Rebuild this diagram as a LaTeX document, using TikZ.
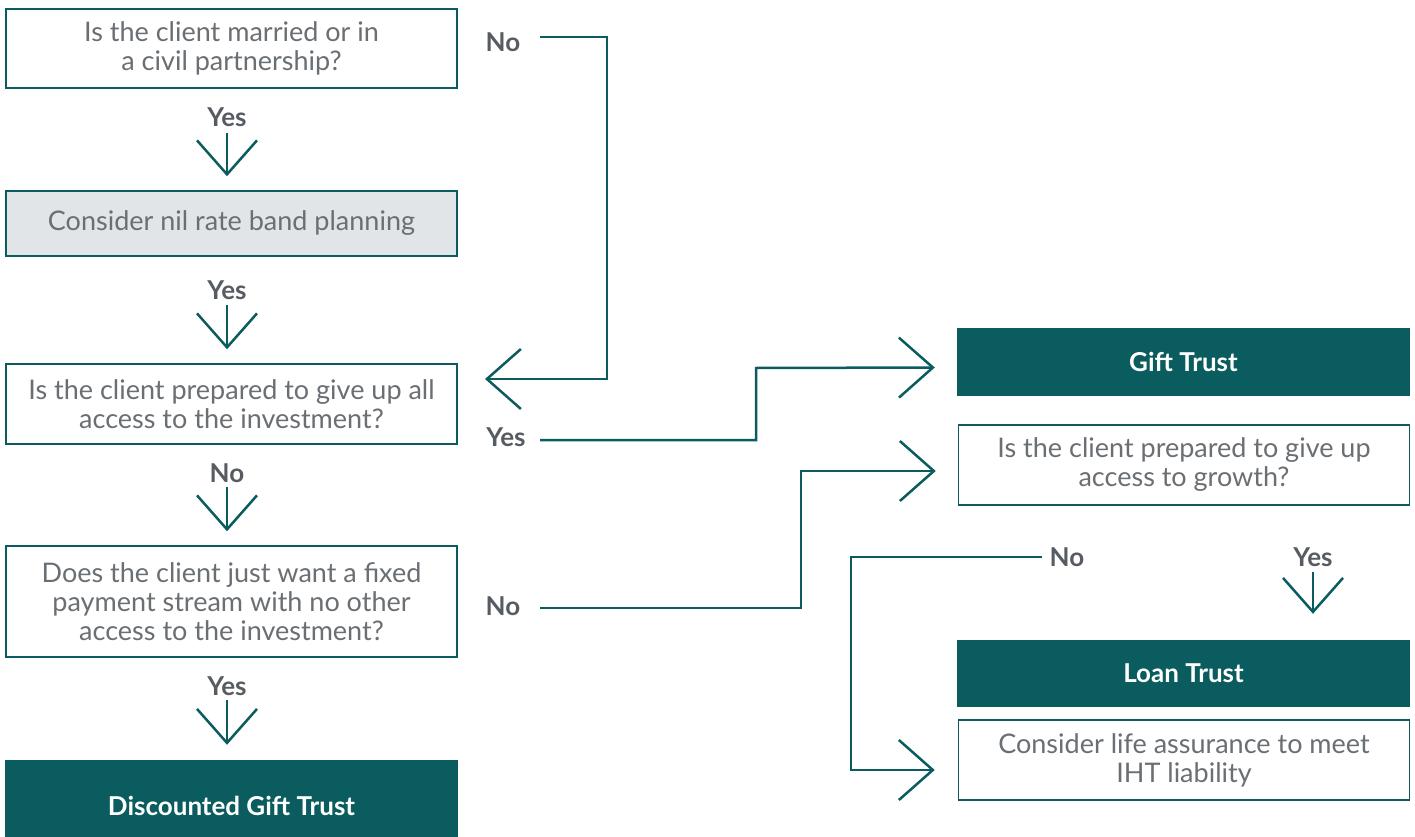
\documentclass[tikz,border=0pt]{standalone}
\usepackage{fontspec}
\setmainfont{Lato}
\usetikzlibrary{arrows.meta}
\definecolor{teal}{HTML}{0A5C5E}
\definecolor{boxtxt}{HTML}{6A6F74}
\definecolor{lbltxt}{HTML}{575C62}
\definecolor{grayfill}{HTML}{E1E5E7}
\tikzset{
  qbox/.style={draw=teal, line width=1.5pt, fill=white, text=boxtxt, align=center,
    font=\fontsize{27}{29}\selectfont, minimum width=451pt, inner sep=0pt},
  tbox/.style={fill=teal, text=white, align=center,
    font=\fontsize{26}{29}\selectfont\bfseries, minimum width=453pt, inner sep=0pt},
  lbl/.style={text=lbltxt, font=\fontsize{26}{28}\selectfont\bfseries, inner sep=2pt},
  conn/.style={draw=teal, line width=2.5pt, -{Straight Barb[length=34pt,width=60pt]}},
}
\begin{document}
\begin{tikzpicture}[x=1pt,y=-1pt]
\useasboundingbox (0,0) rectangle (1415,837);
% left column
\node[qbox, minimum height=79pt] (b1) at (231.5,48.5) {Is the client married or in\\a civil partnership?};
\node[qbox, fill=grayfill, minimum height=65pt] (b2) at (231.5,223.5) {Consider nil rate band planning};
\node[qbox, minimum height=80pt] (b3) at (231.5,404) {Is the client prepared to give up all\\access to the investment?};
\node[qbox, minimum height=111pt] (b4) at (231.5,601.5) {Does the client just want a fixed\\payment stream with no other\\access to the investment?};
\node[tbox, minimum height=78pt] (dgt) at (231.5,799) {\raisebox{-16pt}[0pt][0pt]{Discounted Gift Trust}};
% right column
\node[tbox, minimum height=68pt] (gift) at (1183.5,361.5) {Gift Trust};
\node[qbox, minimum height=80pt] (b5) at (1184,465) {Is the client prepared to give up\\access to growth?};
\node[tbox, minimum height=67pt] (loan) at (1183.5,673.5) {Loan Trust};
\node[qbox, minimum height=80pt] (b6) at (1184,760) {Consider life assurance to meet\\IHT liability};
% labels
\node[lbl] (y1) at (227,117) {Yes};
\node[lbl] (y2) at (227,290) {Yes};
\node[lbl] (n2) at (227,473) {No};
\node[lbl] (y3) at (227,686) {Yes};
\node[lbl] (n1) at (503,42) {No};
\node[lbl] (y4) at (506,437) {Yes};
\node[lbl] (n3) at (503,606) {No};
\node[lbl] (n4) at (1067,557) {No};
\node[lbl] (y5) at (1313,557) {Yes};
% down arrows
\draw[conn, shorten >=14pt] ([yshift=-16pt]y1.center) -- (y1 |- b2.north);
\draw[conn, shorten >=14pt] ([yshift=-15pt]y2.center) -- (y2 |- b3.north);
\draw[conn, shorten >=14pt] ([yshift=-14pt]n2.center) -- (n2 |- b4.north);
\draw[conn, shorten >=15pt] ([yshift=-14pt]y3.center) -- (y3 |- dgt.north);
\draw[conn, shorten >=26pt] ([yshift=-15pt]y5.center) -- (y5 |- loan.north);
% side connectors
\coordinate (t3) at (485,379);
\draw[conn] ([xshift=37pt,yshift=5pt]n1.center) -| (607,379) -- (t3);
\draw[conn] ([xshift=34pt,yshift=-3pt]y4.center) -| (756,368) -- ([xshift=-22pt,yshift=-6pt]gift.west);
\draw[conn] ([xshift=37pt,yshift=-2pt]n3.center) -| (801,471) -- ([xshift=-22pt,yshift=-6pt]b5.west);
\draw[conn] ([xshift=-25pt]n4.center) -| (851,770) -- ([xshift=-23pt,yshift=-10pt]b6.west);
\end{tikzpicture}
\end{document}
